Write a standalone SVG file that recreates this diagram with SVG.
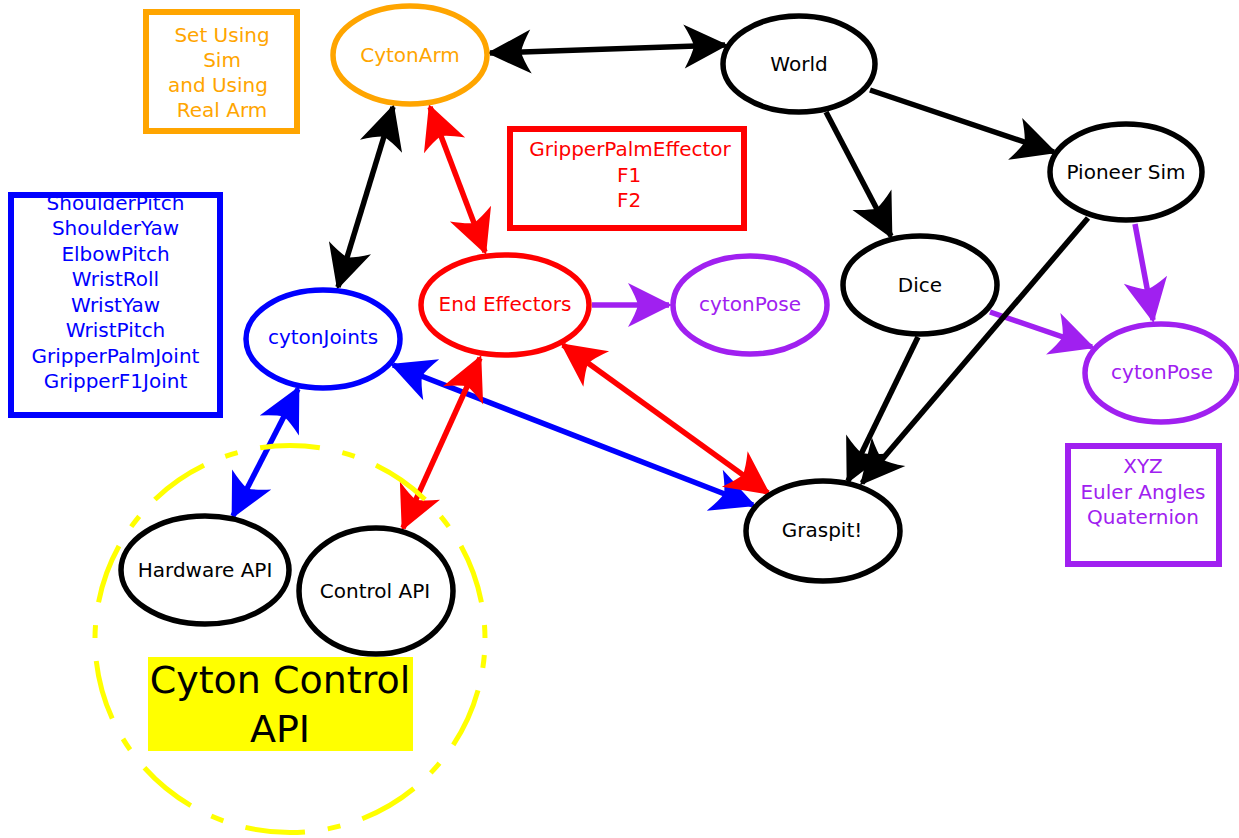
<svg xmlns="http://www.w3.org/2000/svg" width="1239" height="838" viewBox="0 0 1239 838">
<style>
text { font-family: "DejaVu Sans", "Bitstream Vera Sans", sans-serif; font-size: 20px; text-anchor: middle; }
.node ellipse { fill: #ffffff; stroke-width: 5.5; }
.box rect { fill: none; stroke-width: 6; }
.conn line { stroke-width: 5.5; fill: none; }
.k { stroke: #000000; } .kt { fill: #000000; }
.o { stroke: #ffa500; } .ot { fill: #ffa500; }
.r { stroke: #ff0000; } .rt { fill: #ff0000; }
.b { stroke: #0000ff; } .bt { fill: #0000ff; }
.p { stroke: #a020f0; } .pt { fill: #a020f0; }
.big { font-size: 38px; }
</style>
<defs>
<marker id="ak" viewBox="-50 -28 56 56" markerWidth="56" markerHeight="56" refX="0" refY="0" orient="auto-start-reverse" markerUnits="userSpaceOnUse"><path d="M3,0 L-41,-22 Q-33,-8 -31,0 Q-33,8 -41,22 Z" fill="#000000"/></marker>
<marker id="ar" viewBox="-50 -28 56 56" markerWidth="56" markerHeight="56" refX="0" refY="0" orient="auto-start-reverse" markerUnits="userSpaceOnUse"><path d="M3,0 L-41,-22 Q-33,-8 -31,0 Q-33,8 -41,22 Z" fill="#ff0000"/></marker>
<marker id="ab" viewBox="-50 -28 56 56" markerWidth="56" markerHeight="56" refX="0" refY="0" orient="auto-start-reverse" markerUnits="userSpaceOnUse"><path d="M3,0 L-41,-22 Q-33,-8 -31,0 Q-33,8 -41,22 Z" fill="#0000ff"/></marker>
<marker id="ap" viewBox="-50 -28 56 56" markerWidth="56" markerHeight="56" refX="0" refY="0" orient="auto-start-reverse" markerUnits="userSpaceOnUse"><path d="M3,0 L-41,-22 Q-33,-8 -31,0 Q-33,8 -41,22 Z" fill="#a020f0"/></marker>
</defs>
<rect width="1239" height="838" fill="#ffffff"/>

<g id="connectors" class="conn">
<line class="k" x1="490" y1="53" x2="725" y2="45" marker-start="url(#ak)" marker-end="url(#ak)"/>
<line class="k" x1="393" y1="107" x2="338" y2="287" marker-start="url(#ak)" marker-end="url(#ak)"/>
<line class="r" x1="430" y1="107" x2="485" y2="252" marker-start="url(#ar)" marker-end="url(#ar)"/>
<line class="p" x1="592" y1="305" x2="669" y2="305" marker-end="url(#ap)"/>
<line class="b" x1="298" y1="389" x2="233" y2="516" marker-start="url(#ab)" marker-end="url(#ab)"/>
<line class="b" x1="393" y1="365" x2="753" y2="505" marker-start="url(#ab)" marker-end="url(#ab)"/>
<line class="r" x1="480" y1="358" x2="403" y2="528" marker-start="url(#ar)" marker-end="url(#ar)"/>
<line class="r" x1="563" y1="345" x2="768" y2="493" marker-start="url(#ar)" marker-end="url(#ar)"/>
<line class="k" x1="870" y1="90" x2="1054" y2="152" marker-end="url(#ak)"/>
<line class="k" x1="826" y1="112" x2="891" y2="236" marker-end="url(#ak)"/>
<line class="p" x1="990" y1="312" x2="1092" y2="347" marker-end="url(#ap)"/>
<line class="k" x1="1088" y1="218" x2="862" y2="483" marker-end="url(#ak)"/>
<line class="k" x1="918" y1="337" x2="848" y2="481" marker-end="url(#ak)"/>
<line class="p" x1="1135" y1="224" x2="1153" y2="320" marker-end="url(#ap)"/>
</g>

<g id="cyton-control-api">
<path d="M485,639 A195,193.5 0 1 1 95,639 A195,193.5 0 1 1 485,639" fill="none" stroke="#ffff00" stroke-width="5" stroke-dasharray="13 23 60 23" stroke-dashoffset="103"/>
</g>

<g id="node-cytonarm" class="node"><ellipse class="o" cx="410" cy="55" rx="77" ry="49"/><text class="ot" x="410" y="62">CytonArm</text></g>
<g id="node-world" class="node"><ellipse class="k" cx="799" cy="64" rx="76" ry="48"/><text class="kt" x="799" y="71">World</text></g>
<g id="node-pioneer" class="node"><ellipse class="k" cx="1126" cy="172" rx="76" ry="48"/><text class="kt" x="1126" y="179">Pioneer Sim</text></g>
<g id="node-dice" class="node"><ellipse class="k" cx="920" cy="285" rx="77" ry="49"/><text class="kt" x="920" y="292">Dice</text></g>
<g id="node-cytonpose2" class="node"><ellipse class="p" cx="1161" cy="373" rx="76" ry="49"/><text class="pt" x="1162" y="379">cytonPose</text></g>
<g id="node-endeffectors" class="node"><ellipse class="r" cx="505" cy="305" rx="84" ry="50"/><text class="rt" x="505" y="311">End Effectors</text></g>
<g id="node-cytonpose1" class="node"><ellipse class="p" cx="750" cy="305" rx="77" ry="49"/><text class="pt" x="750" y="311">cytonPose</text></g>
<g id="node-cytonjoints" class="node"><ellipse class="b" cx="323" cy="339" rx="77" ry="49"/><text class="bt" x="323" y="344">cytonJoints</text></g>
<g id="node-graspit" class="node"><ellipse class="k" cx="823" cy="531" rx="77" ry="50"/><text class="kt" x="822" y="537">Graspit!</text></g>
<g id="node-hardware" class="node"><ellipse class="k" cx="205" cy="570" rx="84" ry="54"/><text class="kt" x="205" y="577">Hardware API</text></g>
<g id="node-control" class="node"><ellipse class="k" cx="376" cy="591" rx="77" ry="63"/><text class="kt" x="375" y="598">Control API</text></g>

<g id="label-cyton-control">
<rect x="148" y="657" width="265" height="94" fill="#ffff00"/>
<text class="kt big" x="280" y="693">Cyton Control</text>
<text class="kt big" x="280" y="742">API</text>
</g>

<g id="box-set-using" class="box">
<rect class="o" x="146" y="12" width="151" height="119"/>
<text class="ot" x="222" y="42">Set Using</text>
<text class="ot" x="222" y="67">Sim</text>
<text class="ot" x="218" y="92">and Using</text>
<text class="ot" x="222" y="117">Real Arm</text>
</g>

<g id="box-joints" class="box">
<rect class="b" x="11" y="195" width="209" height="220"/>
<text class="bt" x="115.5" y="210">ShoulderPitch</text>
<text class="bt" x="115.5" y="235">ShoulderYaw</text>
<text class="bt" x="115.5" y="261">ElbowPitch</text>
<text class="bt" x="115.5" y="286">WristRoll</text>
<text class="bt" x="115.5" y="312">WristYaw</text>
<text class="bt" x="115.5" y="337">WristPitch</text>
<text class="bt" x="115.5" y="363">GripperPalmJoint</text>
<text class="bt" x="115.5" y="388">GripperF1Joint</text>
</g>

<g id="box-effectors" class="box">
<rect class="r" x="510" y="129" width="234" height="99"/>
<text class="rt" x="630" y="156">GripperPalmEffector</text>
<text class="rt" x="629" y="182">F1</text>
<text class="rt" x="629" y="207">F2</text>
</g>

<g id="box-pose" class="box">
<rect class="p" x="1068" y="446" width="151" height="118"/>
<text class="pt" x="1143" y="473">XYZ</text>
<text class="pt" x="1143" y="499">Euler Angles</text>
<text class="pt" x="1143" y="524">Quaternion</text>
</g>
</svg>
